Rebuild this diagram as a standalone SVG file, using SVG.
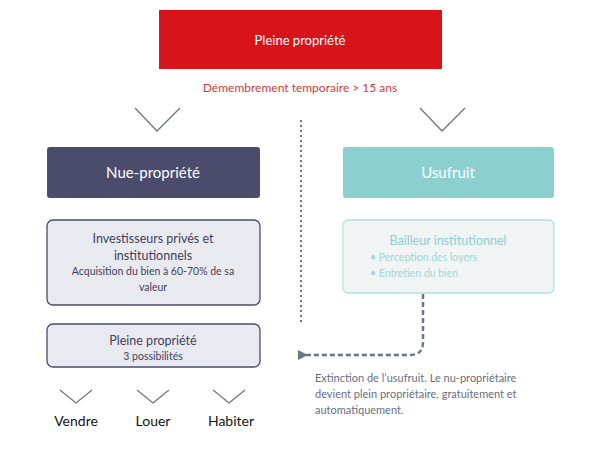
<svg xmlns="http://www.w3.org/2000/svg" width="600" height="450" viewBox="0 0 600 450">
<style>
text{font-family:Lato,"Open Sans",sans-serif;text-anchor:middle}
.chev{fill:none;stroke:#6f7383;stroke-width:1.3}
.card{fill:#e9eaef;stroke:#4b4b6b;stroke-width:1.3}
.dk{fill:#3f3f5c}
.gr{fill:#6a6d7e}
</style>
<defs><marker id="ah" viewBox="0 0 10 10" refX="2" refY="5" markerWidth="4" markerHeight="4" orient="auto"><path d="M10,0L0,5L10,10z" fill="#6f7488"/></marker></defs>
<rect width="600" height="450" fill="#fff"/>
<g id="top"><rect x="159" y="10" width="283" height="59" fill="#d7141a"/><text x="300" y="45" font-size="13" fill="#fff">Pleine propriété</text></g>
<text x="300" y="92" font-size="12" fill="#d23a3a">Démembrement temporaire &gt; 15 ans</text>
<g id="connectors">
<path class="chev" d="M135,108L157,131L180,108M420,108L442,131L465,108"/>
<line x1="301" y1="120" x2="301" y2="323" stroke="#6f7383" stroke-width="2" stroke-dasharray="2,3"/>
<path class="chev" d="M60,390L76,403L92,390M137,390L153,403L169,390M213,390L229,403L245,390"/>
<path d="M423,294V342Q423,355,410,355H306" fill="none" stroke="#6f7488" stroke-width="2.5" stroke-dasharray="5,3" marker-end="url(#ah)"/>
</g>
<g id="nue"><rect x="47" y="147" width="213" height="51" rx="3" fill="#4b4b6b"/><text x="153" y="178" font-size="15" fill="#fff">Nue-propriété</text></g>
<g id="usufruit"><rect x="343" y="147" width="211" height="51" rx="3" fill="#8ccfcf"/><text x="448" y="178" font-size="15" fill="#fff">Usufruit</text></g>
<g id="invest"><rect class="card" x="47" y="220" width="213" height="85" rx="6"/>
<text x="153" y="243" font-size="12.5" class="dk">Investisseurs privés et</text>
<text x="153" y="260" font-size="12.5" class="dk">institutionnels</text>
<text x="153" y="275" font-size="10.5" class="dk">Acquisition du bien à 60-70% de sa</text>
<text x="153" y="291" font-size="10.5" class="dk">valeur</text></g>
<g id="bailleur"><rect x="343" y="220" width="211" height="73" rx="5" fill="#f1f4f5" stroke="#b2e0dc" stroke-width="1.3"/>
<text x="448" y="245" font-size="12.5" fill="#8ccfcf">Bailleur institutionnel</text>
<text x="370" y="261" font-size="10.5" fill="#9fd6d4" style="text-anchor:start">•  Perception des loyers</text>
<text x="370" y="277" font-size="10.5" fill="#9fd6d4" style="text-anchor:start">•  Entretien du bien</text></g>
<g id="pleine2"><rect class="card" x="47" y="324" width="213" height="43" rx="6"/>
<text x="153" y="345" font-size="12.5" class="dk">Pleine propriété</text>
<text x="153" y="360" font-size="10.5" class="dk">3 possibilités</text></g>
<g id="vendre"><text x="76" y="426" font-size="14" fill="#111">Vendre</text></g>
<g id="louer"><text x="153" y="426" font-size="14" fill="#111">Louer</text></g>
<g id="habiter"><text x="231" y="426" font-size="14" fill="#111">Habiter</text></g>
<g style="text-anchor:start" font-size="11" class="gr">
<text x="315" y="382" style="text-anchor:start">Extinction de l’usufruit. Le nu-propriétaire</text>
<text x="315" y="398" style="text-anchor:start">devient plein propriétaire, gratuitement et</text>
<text x="315" y="414" style="text-anchor:start">automatiquement.</text></g>
</svg>
